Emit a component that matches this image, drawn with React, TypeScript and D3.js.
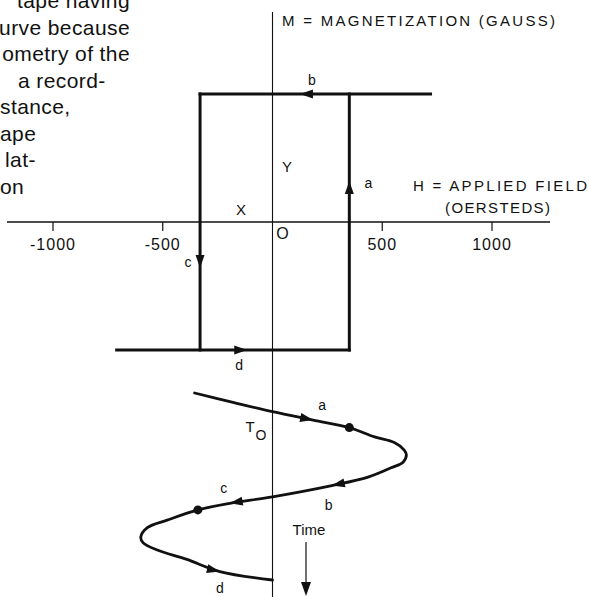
import React from 'react';
import * as d3 from 'd3';

const W = 589;
const H = 597;

// applied field axis (oersteds)
const fieldTicks = [-1000, -500, 500, 1000];
const fieldTickLabels = ['-1000', '-500', '500', '1000'];

// M-H loop branches, [H (Oe), M (gauss)]
const branchA = [[350, -1000], [350, 1000]];
const branchB = [[720, 1000], [-330, 1000]];
const branchC = [[-330, 1000], [-330, -1000]];
const branchD = [[-710, -1000], [350, -1000]];

// arrow tips on the loop: label, H, M, direction
const loopArrows = [
    { label: 'a', h: 350, m: 320, dir: -90, dx: 19, dy: 7 },
    { label: 'b', h: 125, m: 1000, dir: 180, dx: 12, dy: -9 },
    { label: 'c', h: -330, m: -360, dir: 90, dx: -12, dy: -1 },
    { label: 'd', h: -115, m: -1000, dir: 0, dx: -8, dy: 20 }
];

// field against time, drawn under the loop (time runs downwards)
const curveTime = [0, 0.5, 1.0, 1.45, 1.85, 2.35, 2.65, 3.05, 3.3, 3.7, 4.0, 4.5, 4.95, 5.55, 5.9, 6.25, 6.8, 7.2, 7.7, 8.0, 8.4, 8.9, 9.55, 10];
const curveField = [-355, -180, 0, 185, 350, 465, 555, 600, 610, 595, 540, 435, 270, 0, -195, -340, -480, -570, -600, -590, -525, -390, -240, 0];
const curveDots = [4, 15];
const curveArrows = [
    { label: 'a', index: 3, dx: 9, dy: -10 },
    { label: 'b', index: 12, dx: -3, dy: 24 },
    { label: 'c', index: 14, dx: -6, dy: -10 },
    { label: 'd', index: 22, dx: 0, dy: 21 }
];

// bits of the page text that sit beside the figure
const proseLines = [
    { text: 'tape having', anchor: 'end', x: 130 },
    { text: 'urve because', anchor: 'end', x: 130 },
    { text: 'ometry of the', anchor: 'end', x: 130 },
    { text: 'a record-', anchor: 'start', x: 18 },
    { text: 'stance,', anchor: 'start', x: 0 },
    { text: 'ape', anchor: 'start', x: 0 },
    { text: 'lat-', anchor: 'start', x: 5 },
    { text: 'on', anchor: 'start', x: 0 }
];

const font = "'Liberation Sans', Arial, sans-serif";
const ink = '#111';

const x = d3.scaleLinear().domain([-1000, 1000]).range([53, 492]);
const y = d3.scaleLinear().domain([-1000, 1000]).range([350, 94]);
const t = d3.scaleLinear().domain([0, 10]).range([393, 580]);

function arrowHead(tx, ty, angleDeg, len, half) {
    const a = angleDeg * Math.PI / 180;
    const bx = tx - len * Math.cos(a);
    const by = ty - len * Math.sin(a);
    const nx = -Math.sin(a) * half;
    const ny = Math.cos(a) * half;
    return `M${tx},${ty}L${bx + nx},${by + ny}L${bx - nx},${by - ny}Z`;
}

export default function App() {
    const loopLine = d3.line().x(d => x(d[0])).y(d => y(d[1]));
    const pts = curveTime.map((v, i) => [x(curveField[i]), t(v)]);
    const timeLine = d3.line().curve(d3.curveCatmullRom.alpha(0.5))(pts);

    return (
        <svg width={W} height={H} style={{ position: 'fixed', left: 0, top: 0, background: '#fff' }}
            fontFamily={font} fill={ink}>
            {proseLines.map((l, i) => (
                <text key={i} x={l.x} y={8 + i * 26.5} fontSize={21} letterSpacing={0.4}
                    textAnchor={l.anchor}>{l.text}</text>
            ))}

            {/* axes */}
            <line x1={x(0)} x2={x(0)} y1={12} y2={H} stroke={ink} strokeWidth={1.1} />
            <line x1={7} x2={550} y1={y(0)} y2={y(0)} stroke={ink} strokeWidth={1.5} />
            {fieldTicks.map((v, i) => (
                <g key={v}>
                    <line x1={x(v)} x2={x(v)} y1={y(0)} y2={y(0) + 9} stroke={ink} strokeWidth={1.2} />
                    <text x={x(v)} y={250} fontSize={16} textAnchor="middle" letterSpacing={1}>{fieldTickLabels[i]}</text>
                </g>
            ))}
            <text x={x(0) + 10} y={239} fontSize={16} textAnchor="middle">O</text>
            <text x={241} y={215} fontSize={15} textAnchor="middle">X</text>
            <text x={287} y={172} fontSize={15} textAnchor="middle">Y</text>

            <text x={282} y={26} fontSize={15} textLength={273} lengthAdjust="spacing">M  =  MAGNETIZATION  (GAUSS)</text>
            <text x={413} y={191} fontSize={15} textLength={174} lengthAdjust="spacing">H = APPLIED FIELD</text>
            <text x={445} y={213} fontSize={15} textLength={105} lengthAdjust="spacing">(OERSTEDS)</text>

            {/* hysteresis loop */}
            {[branchA, branchB, branchC, branchD].map((b, i) => (
                <path key={i} d={loopLine(b)} stroke={ink} strokeWidth={3} fill="none" strokeLinecap="square" />
            ))}
            {loopArrows.map(a => (
                <g key={a.label}>
                    <path d={arrowHead(x(a.h), y(a.m), a.dir, 13, 4.5)} fill={ink} />
                    <text x={x(a.h) + a.dx} y={y(a.m) + a.dy} fontSize={14} textAnchor="middle">{a.label}</text>
                </g>
            ))}

            {/* field against time */}
            <path d={timeLine} stroke={ink} strokeWidth={2.8} fill="none" strokeLinecap="round" />
            {curveDots.map(i => (
                <circle key={i} cx={pts[i][0]} cy={pts[i][1]} r={4.5} fill={ink} />
            ))}
            {curveArrows.map(a => {
                const p0 = pts[a.index - 1], p1 = pts[a.index + 1], p = pts[a.index];
                const ang = Math.atan2(p1[1] - p0[1], p1[0] - p0[0]) * 180 / Math.PI;
                return (
                    <g key={a.label}>
                        <path d={arrowHead(p[0], p[1], ang, 13, 4.5)} fill={ink} />
                        <text x={p[0] + a.dx} y={p[1] + a.dy} fontSize={14} textAnchor="middle">{a.label}</text>
                    </g>
                );
            })}
            <text x={250} y={432} fontSize={15} textAnchor="middle">T</text>
            <text x={261} y={440} fontSize={14} textAnchor="middle">O</text>

            <text x={309} y={535} fontSize={15} textAnchor="middle">Time</text>
            <line x1={306} x2={306} y1={542} y2={584} stroke={ink} strokeWidth={1.2} />
            <path d={arrowHead(306, 596, 90, 14, 5)} fill={ink} />
        </svg>
    );
}
